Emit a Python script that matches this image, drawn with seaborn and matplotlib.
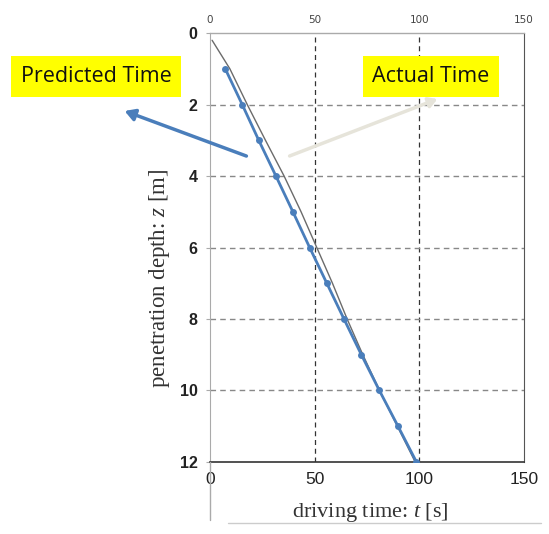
import matplotlib
matplotlib.use("Agg")
import matplotlib.pyplot as plt
import seaborn as sns
import pandas as pd

# Predicted driving time (blue, with markers)
pred_depth = [1, 2, 3, 4, 5, 6, 7, 8, 9, 10, 11, 12]
pred_time = [7.3, 15.4, 23.3, 31.5, 39.6, 47.6, 55.8, 64.0, 72.3, 80.9, 89.8, 98.6]

# Actual driving time (gray line)
act_depth = [0.2, 1, 2, 3, 4, 5, 6, 7, 8, 9, 10, 11, 12]
act_time = [1.0, 9.5, 17.8, 26.5, 35.4, 43.5, 51.0, 58.5, 65.5, 73.0, 81.0, 89.5, 98.0]

x_ticks = [0, 50, 100, 150]
y_ticks = [0, 2, 4, 6, 8, 10, 12]

sns.set_style("white")
plt.rcParams["mathtext.fontset"] = "custom"
plt.rcParams["mathtext.it"] = "Liberation Serif:italic"
plt.rcParams["mathtext.rm"] = "Liberation Serif"

fig = plt.figure(figsize=(5.49, 5.34), dpi=100)
ax = fig.add_axes([0.3825, 0.135, 0.572, 0.803])

df_act = pd.DataFrame({"time": act_time, "depth": act_depth})
df_pred = pd.DataFrame({"time": pred_time, "depth": pred_depth})

sns.lineplot(data=df_act, x="time", y="depth", ax=ax, color="#6b6b6b",
             linewidth=1.0, sort=False, zorder=3)
sns.lineplot(data=df_pred, x="time", y="depth", ax=ax, color="#4a7ebb",
             linewidth=2.0, marker="o", markersize=5, markeredgewidth=0,
             sort=False, zorder=4)

ax.set_xlim(0, 150)
ax.set_ylim(12, 0)
ax.set_xticks(x_ticks)
ax.set_yticks(y_ticks)

# grid
for xv in [50, 100]:
    ax.axvline(xv, color="#333333", linestyle=(0, (4, 3)), linewidth=0.9, zorder=1)
for yv in [2, 4, 6, 8, 10]:
    ax.axhline(yv, color="#888888", linestyle=(0, (4, 3)), linewidth=1.0, zorder=1)

for s in ["left", "top"]:
    ax.spines[s].set_color("#aaaaaa")
ax.spines["right"].set_color("#555555")
ax.spines["bottom"].set_color("#333333")
ax.spines["bottom"].set_linewidth(1.2)

ax.tick_params(axis="x", bottom=False, labelbottom=True, top=False, labeltop=False,
               labelsize=12.5, colors="#222222", pad=4)
ax.tick_params(axis="y", left=True, length=3, color="#aaaaaa", labelsize=11.5,
               colors="#222222", pad=6)
for lab in ax.get_yticklabels():
    lab.set_fontweight("bold")
    lab.set_family("Liberation Sans")
for lab in ax.get_xticklabels():
    lab.set_family("Liberation Sans")

# secondary top axis ticks (small)
ax_top = ax.secondary_xaxis("top")
ax_top.set_xticks(x_ticks)
ax_top.tick_params(axis="x", length=0, labelsize=7.5, colors="#444444", pad=6)

ax.set_xlabel("")
ax.set_ylabel("")
fig.text(0.674, 0.04, "driving time: $t$ [s]", ha="center", va="center",
         fontsize=16, family="Liberation Serif", color="#333333")
fig.text(0.29, 0.478, "penetration depth: $z$ [m]", ha="center", va="center",
         rotation=90, fontsize=16.5, family="Liberation Serif", color="#333333")

# extension of left spine below and rule under xlabel
fig.add_artist(plt.Line2D([0.3825, 0.3825], [0.135, 0.027], color="#aaaaaa", lw=1.0))
fig.add_artist(plt.Line2D([0.415, 0.985], [0.02, 0.02], color="#cccccc", lw=1.0))

# annotation boxes
fig.text(0.175, 0.857, "Predicted Time", ha="center", va="center", fontsize=15.5,
         family="Open Sans", color="#111111",
         bbox=dict(boxstyle="square,pad=0.45", fc="#ffff00", ec="none"))
fig.text(0.785, 0.857, "Actual Time", ha="center", va="center", fontsize=15.5,
         family="Open Sans", color="#111111",
         bbox=dict(boxstyle="square,pad=0.45", fc="#ffff00", ec="none"))

fig.add_artist(matplotlib.patches.FancyArrowPatch(
    (249 / 549, 1 - 157 / 534), (122 / 549, 1 - 110 / 534),
    transform=fig.transFigure, arrowstyle="-|>,head_length=6,head_width=3.5",
    color="#4a7ebb", lw=2.5, mutation_scale=1, zorder=10))
fig.add_artist(matplotlib.patches.FancyArrowPatch(
    (287 / 549, 1 - 157 / 534), (440 / 549, 1 - 98 / 534),
    transform=fig.transFigure, arrowstyle="-|>,head_length=5,head_width=3",
    color="#e6e4da", lw=2.5, mutation_scale=1, zorder=10))

fig.savefig("out.png", dpi=100, facecolor="white")
